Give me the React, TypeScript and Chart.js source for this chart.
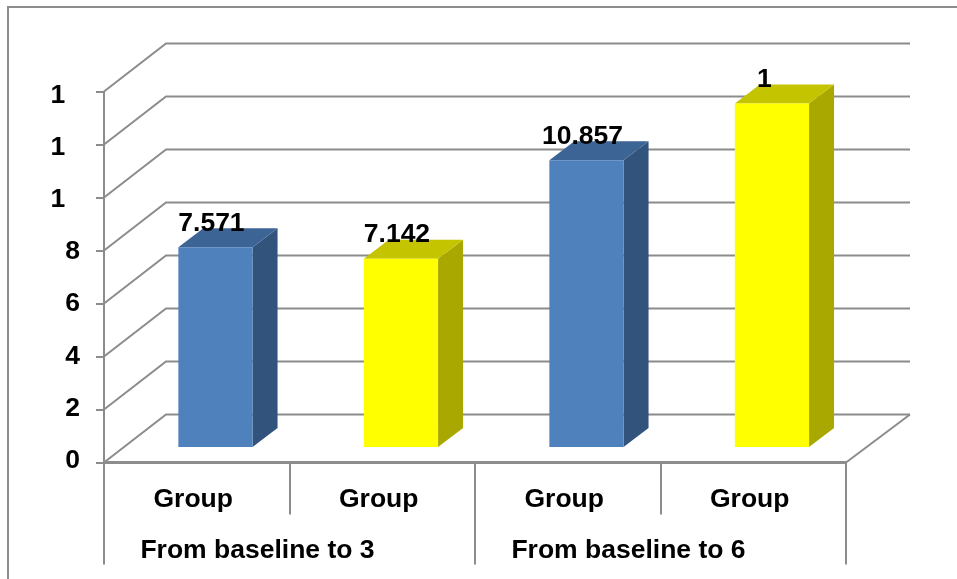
import React, { useEffect, useRef } from "react";
import { Chart, registerables } from "chart.js";

Chart.register(...registerables);

const groupLabels = ["Group", "Group", "Group", "Group"];
const periodLabels = ["From baseline to 3", "From baseline to 6"];
const barValues = [7.571, 7.142, 10.857, 13];
const barLabels = ["7.571", "7.142", "10.857", "1 "];
const yTickValues = [0, 2, 4, 6, 8, 10, 12, 14];
const yTickLabels = ["0", "2", "4", "6", "8", "1  ", "1  ", "1  "];

const frontColors = ["#4F81BD", "#FFFF00", "#4F81BD", "#FFFF00"];
const topColors = ["#3C6495", "#C4C400", "#3C6495", "#C4C400"];
const sideColors = ["#31537C", "#A8A800", "#31537C", "#A8A800"];

const LINE = "#8C8C8C";
const FONT = { family: "'Liberation Sans', Arial, sans-serif", size: 26.5, weight: "bold" as const };

// Oblique projection: depth of the whole floor, and where the bars stand in it.
const FLOOR_DX = 62;
const FLOOR_DY = -48;
const BACK_OVERHANG = 2;
const BAR_SHIFT_X = 18.7;
const BAR_SHIFT_Y = -14.5;
const BAR_DX = 25;
const BAR_DY = -19;

const cabinet = {
  id: "cabinet",
  beforeDraw(chart: any) {
    const { ctx } = chart;
    ctx.save();
    ctx.strokeStyle = LINE;
    ctx.lineWidth = 2;
    ctx.strokeRect(8, 7, 1200, 1200);
    ctx.restore();
  },
  beforeDatasetsDraw(chart: any) {
    const { ctx, chartArea, scales } = chart;
    const { left, right } = chartArea;
    const backRight = right + FLOOR_DX + BACK_OVERHANG;
    ctx.save();
    ctx.strokeStyle = LINE;
    ctx.lineWidth = 2;
    // Wall and back grid for each value tick
    yTickValues.forEach((value) => {
      const y = scales.y.getPixelForValue(value);
      ctx.beginPath();
      ctx.moveTo(left, y);
      ctx.lineTo(left + FLOOR_DX, y + FLOOR_DY);
      ctx.lineTo(backRight, y + FLOOR_DY);
      ctx.stroke();
    });
    // Right edge of the floor
    const y0 = scales.y.getPixelForValue(0);
    ctx.beginPath();
    ctx.moveTo(right, y0);
    ctx.lineTo(backRight, y0 + FLOOR_DY);
    ctx.stroke();
    ctx.restore();

    // Bars stand further back on the floor; their side and top faces go first.
    ctx.save();
    ctx.translate(BAR_SHIFT_X, BAR_SHIFT_Y);
    chart.getDatasetMeta(0).data.forEach((bar: any, i: number) => {
      const l = bar.x - bar.width / 2;
      const r = bar.x + bar.width / 2;
      ctx.fillStyle = sideColors[i];
      ctx.beginPath();
      ctx.moveTo(r, bar.y);
      ctx.lineTo(r + BAR_DX, bar.y + BAR_DY);
      ctx.lineTo(r + BAR_DX, bar.base + BAR_DY);
      ctx.lineTo(r, bar.base);
      ctx.closePath();
      ctx.fill();
      ctx.fillStyle = topColors[i];
      ctx.beginPath();
      ctx.moveTo(l, bar.y);
      ctx.lineTo(l + BAR_DX, bar.y + BAR_DY);
      ctx.lineTo(r + BAR_DX, bar.y + BAR_DY);
      ctx.lineTo(r, bar.y);
      ctx.closePath();
      ctx.fill();
    });
  },
  afterDatasetsDraw(chart: any) {
    const { ctx } = chart;
    ctx.fillStyle = "#000000";
    ctx.font = `${FONT.weight} ${FONT.size}px ${FONT.family}`;
    ctx.textAlign = "center";
    ctx.textBaseline = "alphabetic";
    chart.getDatasetMeta(0).data.forEach((bar: any, i: number) => {
      ctx.fillText(barLabels[i], bar.x - 4, bar.y - 16.5);
    });
    ctx.restore();
  },
};

export default function App() {
  const canvasRef = useRef<HTMLCanvasElement>(null);

  useEffect(() => {
    const chart = new Chart(canvasRef.current as HTMLCanvasElement, {
      type: "bar",
      data: {
        labels: groupLabels,
        datasets: [
          {
            data: barValues,
            backgroundColor: frontColors,
            barPercentage: 0.4,
            categoryPercentage: 1,
            clip: false as any,
            xAxisID: "x",
            yAxisID: "y",
          },
        ],
      },
      options: {
        animation: false,
        responsive: false,
        layout: { padding: { left: 0, top: 91.5, right: 111, bottom: 14 } },
        plugins: { legend: { display: false }, tooltip: { enabled: false } },
        scales: {
          x: {
            type: "category",
            position: "bottom",
            weight: 0,
            offset: true,
            afterFit: (s: any) => { s.height = 51; },
            border: { color: LINE, width: 3 },
            grid: {
              offset: true,
              drawOnChartArea: false,
              color: LINE,
              lineWidth: 2,
              tickLength: 52,
            },
            ticks: {
              color: "#000000",
              font: FONT,
              padding: -31,
              labelOffset: -3.5,
              maxRotation: 0,
              autoSkip: false,
            },
          },
          periods: {
            type: "category",
            position: "bottom",
            weight: 1,
            offset: true,
            labels: periodLabels,
            afterFit: (s: any) => { s.height = 51.5; },
            border: { display: false },
            grid: {
              offset: true,
              drawOnChartArea: false,
              color: LINE,
              lineWidth: 2,
              tickLength: 51,
            },
            ticks: {
              color: "#000000",
              font: FONT,
              padding: -30,
              labelOffset: -32,
              maxRotation: 0,
              autoSkip: false,
            },
          },
          y: {
            type: "linear",
            position: "left",
            weight: 0,
            min: 0,
            max: 14,
            afterFit: (s: any) => { s.width = 8; },
            border: { color: LINE, width: 2 },
            grid: {
              drawOnChartArea: false,
              color: LINE,
              lineWidth: 2,
              tickLength: 8,
            },
            ticks: { display: false, stepSize: 2, autoSkip: false },
          },
          // Carries the value labels, which run slightly tighter than the ticks.
          yLabels: {
            type: "linear",
            position: "left",
            weight: 1,
            min: -0.0767,
            max: 14.153,
            afterFit: (s: any) => { s.width = 96; },
            afterBuildTicks: (s: any) => { s.ticks = yTickValues.map((value) => ({ value })); },
            border: { display: false },
            grid: { display: false },
            ticks: {
              color: "#000000",
              font: FONT,
              padding: 8,
              autoSkip: false,
              callback: (_v: any, index: number) => yTickLabels[index],
            },
          },
        },
      },
      plugins: [cabinet],
    } as any);
    return () => chart.destroy();
  }, []);

  return (
    <div style={{ position: "fixed", left: 0, top: 0, width: 957, height: 579, background: "#ffffff" }}>
      <canvas ref={canvasRef} width={957} height={579} style={{ display: "block" }} />
    </div>
  );
}
